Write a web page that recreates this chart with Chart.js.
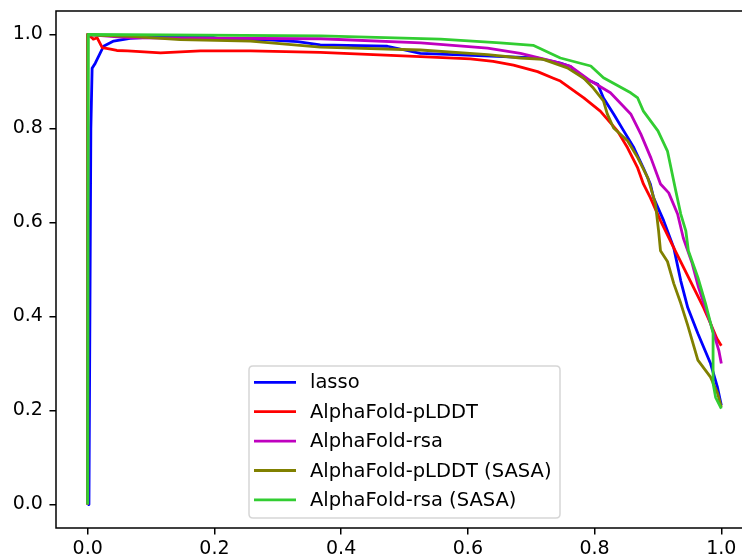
<!DOCTYPE html>
<html>
<head>
<meta charset="utf-8">
<script src="https://cdn.jsdelivr.net/npm/chart.js@4.4.0/dist/chart.umd.min.js"></script>
<style>
  html, body { margin: 0; padding: 0; background: #ffffff; overflow: hidden; }
  #wrap { width: 762px; height: 559px; position: relative; }
</style>
</head>
<body>
<div id="wrap"><canvas id="c"></canvas></div>
<script>
// Tick labels
const xTicks = [0.0, 0.2, 0.4, 0.6, 0.8, 1.0];
const yTicks = [0.0, 0.2, 0.4, 0.6, 0.8, 1.0];

// Series names and colours
const seriesNames = ['lasso', 'AlphaFold-pLDDT', 'AlphaFold-rsa', 'AlphaFold-pLDDT (SASA)', 'AlphaFold-rsa (SASA)'];
const seriesColors = ['#0000ff', '#ff0000', '#bf00bf', '#808000', '#32cd32'];

// lasso
const lassoRecall    = [0, 0.002, 0.005, 0.007, 0.012, 0.025, 0.041, 0.067, 0.12, 0.198, 0.214, 0.277, 0.331, 0.367, 0.473, 0.525, 0.577, 0.656, 0.71, 0.746, 0.762, 0.783, 0.805, 0.814, 0.83, 0.846, 0.862, 0.877, 0.888, 0.893, 0.909, 0.925, 0.936, 0.947, 0.963, 0.983, 0.994, 1.0];
const lassoPrecision = [0, 0.0, 0.8, 0.928, 0.939, 0.975, 0.986, 0.992, 0.996, 0.994, 0.989, 0.989, 0.985, 0.978, 0.975, 0.96, 0.957, 0.953, 0.95, 0.939, 0.932, 0.907, 0.894, 0.865, 0.831, 0.795, 0.759, 0.716, 0.682, 0.653, 0.604, 0.546, 0.476, 0.419, 0.364, 0.3, 0.249, 0.211];

// AlphaFold-pLDDT
const plddtRecall    = [0, 0, 0.007, 0.009, 0.015, 0.023, 0.036, 0.046, 0.063, 0.115, 0.178, 0.257, 0.367, 0.525, 0.604, 0.64, 0.672, 0.71, 0.735, 0.746, 0.783, 0.809, 0.836, 0.852, 0.868, 0.877, 0.888, 0.904, 0.925, 0.951, 0.972, 0.983, 0.993, 1.0];
const plddtPrecision = [0, 1.0, 0.993, 0.99, 0.993, 0.972, 0.969, 0.966, 0.965, 0.961, 0.965, 0.965, 0.962, 0.953, 0.948, 0.943, 0.935, 0.921, 0.907, 0.901, 0.865, 0.837, 0.795, 0.759, 0.716, 0.682, 0.653, 0.604, 0.546, 0.476, 0.419, 0.385, 0.353, 0.338];

// AlphaFold-rsa
const rsaRecall    = [0, 0, 0.068, 0.368, 0.526, 0.631, 0.683, 0.735, 0.762, 0.794, 0.825, 0.857, 0.873, 0.889, 0.904, 0.917, 0.931, 0.94, 0.954, 0.964, 0.978, 0.988, 0.996, 1.0];
const rsaPrecision = [0, 1.0, 0.993, 0.991, 0.982, 0.971, 0.96, 0.943, 0.932, 0.901, 0.876, 0.831, 0.788, 0.737, 0.682, 0.663, 0.618, 0.567, 0.513, 0.462, 0.406, 0.364, 0.328, 0.3];

// AlphaFold-pLDDT (SASA)
const plddtSasaRecall    = [0, 0, 0.02, 0.068, 0.146, 0.257, 0.367, 0.525, 0.631, 0.683, 0.719, 0.757, 0.783, 0.798, 0.814, 0.82, 0.83, 0.852, 0.868, 0.884, 0.896, 0.901, 0.904, 0.915, 0.925, 0.936, 0.947, 0.963, 0.983, 0.994, 1.0];
const plddtSasaPrecision = [0, 1.0, 0.998, 0.996, 0.989, 0.986, 0.973, 0.967, 0.957, 0.95, 0.947, 0.929, 0.907, 0.886, 0.859, 0.831, 0.801, 0.774, 0.738, 0.695, 0.64, 0.582, 0.54, 0.517, 0.47, 0.428, 0.381, 0.307, 0.271, 0.237, 0.207];

// AlphaFold-rsa (SASA)
const rsaSasaRecall    = [0, 0.001, 0.368, 0.557, 0.651, 0.703, 0.746, 0.794, 0.814, 0.857, 0.868, 0.877, 0.9, 0.915, 0.928, 0.936, 0.944, 0.948, 0.963, 0.975, 0.983, 0.987, 0.987, 0.991, 1.0];
const rsaSasaPrecision = [0, 1.0, 0.997, 0.99, 0.982, 0.977, 0.95, 0.933, 0.908, 0.876, 0.865, 0.837, 0.795, 0.752, 0.668, 0.618, 0.582, 0.54, 0.483, 0.428, 0.386, 0.364, 0.258, 0.228, 0.204];

const recallSets = [lassoRecall, plddtRecall, rsaRecall, plddtSasaRecall, rsaSasaRecall];
const precisionSets = [lassoPrecision, plddtPrecision, rsaPrecision, plddtSasaPrecision, rsaSasaPrecision];

const FONT = 'DejaVu Sans';
const FS = 19;
const LFS = 19.5;
const PT = 1.87; // pixels per point

const datasets = seriesNames.map((name, i) => ({
  label: name,
  data: recallSets[i].map((x, k) => ({ x: x, y: precisionSets[i][k] })),
  borderColor: seriesColors[i],
  backgroundColor: seriesColors[i],
  borderWidth: 1.5 * PT,
  pointRadius: 0,
  showLine: true,
  tension: 0,
  fill: false,
  borderJoinStyle: 'round',
  borderCapStyle: 'butt',
  order: seriesNames.length - i
}));

const framePlugin = {
  id: 'frame',
  afterDatasetsDraw(chart) {
    const { ctx, chartArea: a } = chart;
    ctx.save();
    ctx.strokeStyle = '#000000';
    ctx.lineWidth = 0.8 * PT;
    ctx.strokeRect(a.left, a.top, a.right - a.left, a.bottom - a.top);
    ctx.restore();
  }
};

const legendPlugin = {
  id: 'mplLegend',
  afterDraw(chart) {
    const { ctx } = chart;
    const ds = chart.data.datasets;
    const box = { x: 249, y: 366, w: 311, h: 152 };
    const r = 4;
    ctx.save();
    ctx.beginPath();
    ctx.moveTo(box.x + r, box.y);
    ctx.lineTo(box.x + box.w - r, box.y);
    ctx.quadraticCurveTo(box.x + box.w, box.y, box.x + box.w, box.y + r);
    ctx.lineTo(box.x + box.w, box.y + box.h - r);
    ctx.quadraticCurveTo(box.x + box.w, box.y + box.h, box.x + box.w - r, box.y + box.h);
    ctx.lineTo(box.x + r, box.y + box.h);
    ctx.quadraticCurveTo(box.x, box.y + box.h, box.x, box.y + box.h - r);
    ctx.lineTo(box.x, box.y + r);
    ctx.quadraticCurveTo(box.x, box.y, box.x + r, box.y);
    ctx.closePath();
    ctx.fillStyle = 'rgba(255,255,255,0.8)';
    ctx.fill();
    ctx.strokeStyle = 'rgba(204,204,204,0.8)';
    ctx.lineWidth = 1.5;
    ctx.stroke();
    ctx.font = LFS + 'px "' + FONT + '"';
    ctx.textBaseline = 'middle';
    ctx.textAlign = 'left';
    ds.forEach((d, i) => {
      const cy = 382.3 + i * 29.4;
      ctx.beginPath();
      ctx.strokeStyle = d.borderColor;
      ctx.lineWidth = 1.5 * PT;
      ctx.moveTo(254, cy);
      ctx.lineTo(296, cy);
      ctx.stroke();
      ctx.fillStyle = '#000000';
      ctx.fillText(d.label, 310, cy + 1);
    });
    ctx.restore();
  }
};

new Chart(document.getElementById('c'), {
  type: 'scatter',
  data: { datasets: datasets },
  options: {
    responsive: true,
    maintainAspectRatio: false,
    animation: false,
    layout: { padding: { top: 11, right: 9, left: 0, bottom: 0 } },
    plugins: { legend: { display: false }, tooltip: { enabled: false } },
    scales: {
      x: {
        type: 'linear',
        min: -0.05,
        max: 1.05,
        afterBuildTicks(scale) { scale.ticks = xTicks.map(v => ({ value: v })); },
        afterFit(scale) { scale.height = 31; scale.paddingLeft = 0; scale.paddingRight = 0; },
        border: { display: false },
        grid: { drawOnChartArea: false, drawTicks: true, tickLength: 3.5 * PT, lineWidth: 0.8 * PT, color: '#000000' },
        ticks: {
          autoSkip: false,
          maxRotation: 0,
          padding: 3.5 * PT - 3,
          color: '#000000',
          font: { family: FONT, size: FS },
          callback: (v) => Number(v).toFixed(1)
        }
      },
      y: {
        type: 'linear',
        min: -0.05,
        max: 1.05,
        afterBuildTicks(scale) { scale.ticks = yTicks.map(v => ({ value: v })); },
        afterFit(scale) { scale.width = 56; scale.paddingTop = 0; scale.paddingBottom = 0; },
        border: { display: false },
        grid: { drawOnChartArea: false, drawTicks: true, tickLength: 3.5 * PT, lineWidth: 0.8 * PT, color: '#000000' },
        ticks: {
          autoSkip: false,
          padding: 3.5 * PT,
          color: '#000000',
          font: { family: FONT, size: FS },
          callback: (v) => Number(v).toFixed(1)
        }
      }
    }
  },
  plugins: [framePlugin, legendPlugin]
});
</script>
</body>
</html>
